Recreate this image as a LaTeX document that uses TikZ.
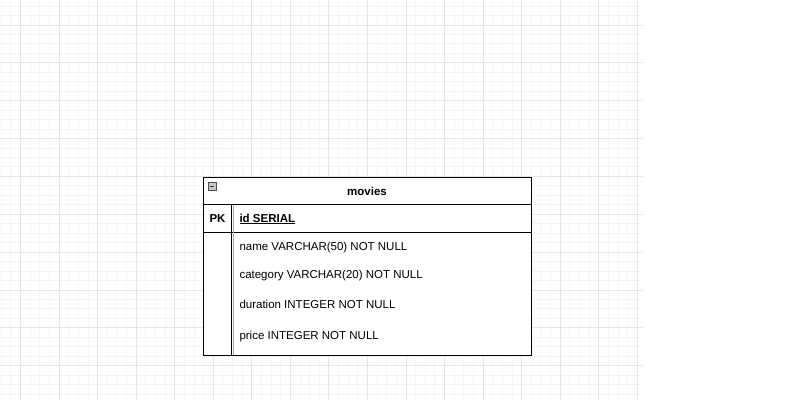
\documentclass[tikz,border=0pt]{standalone}
\usepackage{fontspec}
\setmainfont{Liberation Sans}
\definecolor{gridmajor}{HTML}{E6E6E6}
\definecolor{gridminor}{HTML}{F4F4F4}
\definecolor{dividergray}{HTML}{A8A8A8}
\definecolor{iconfill}{HTML}{C8C8C8}
\begin{document}
\begin{tikzpicture}[x=1pt,y=-1pt,
  every node/.style={inner sep=0pt, outer sep=0pt, font=\fontsize{11.5}{13}\selectfont},
  tline/.style={draw=black, line width=0.9pt},
  rowtext/.style={anchor=west},
  minorgrid/.style={draw=gridminor, line width=0.9pt},
  majorgrid/.style={draw=gridmajor, line width=0.9pt}]
\useasboundingbox (0,0) rectangle (800,413);
\fill[white] (0,0) rectangle (800,413);
% grid
\begin{scope}
\clip (0,0) rectangle (643,401);
\foreach \k in {-3,...,67} {
  \draw[minorgrid] ({20.5+9.6375*\k},0) -- ({20.5+9.6375*\k},401);
}
\foreach \k in {-3,...,43} {
  \draw[minorgrid] (0,{25+9.4625*\k}) -- (643,{25+9.4625*\k});
}
\foreach \k in {-1,...,16} {
  \draw[majorgrid] ({20.5+38.55*\k},0) -- ({20.5+38.55*\k},401);
}
\foreach \k in {-1,...,10} {
  \draw[majorgrid] (0,{25+37.85*\k}) -- (643,{25+37.85*\k});
}
\end{scope}
% table
\fill[white] (203.5,177) rectangle (531,355);
\coordinate (tl) at (203.5,177);
\coordinate (br) at (531,355);
\draw[tline] (tl) rectangle (br);
\draw[tline] (203.5,204) -- (531,204);
\draw[tline] (203.5,232.5) -- (531,232.5);
\draw[tline] (231.5,204) -- (231.5,355);
\draw[draw=dividergray, line width=1pt] (233.2,204.5) -- (233.2,354.5);
% collapse icon
\node[draw=black!70, fill=iconfill, line width=0.6pt, minimum width=8pt, minimum height=8pt] (icon) at (211.8,186) {};
\draw[black!80, line width=1pt] ([xshift=1.8pt]icon.west) -- ([xshift=-1.8pt]icon.east);
% texts
\node[font=\fontsize{11.5}{13}\selectfont\bfseries] (title) at (367,191) {movies};
\node[font=\fontsize{11.5}{13}\selectfont\bfseries] (pk) at (217.5,219) {PK};
\node[rowtext, font=\fontsize{11.5}{13}\selectfont\bfseries] (id) at (239.5,219) {\underline{id SERIAL}};
\node[rowtext] (name) at (239.5,247.5) {name VARCHAR(50) NOT NULL};
\node[rowtext] (category) at (239.5,276) {category VARCHAR(20) NOT NULL};
\node[rowtext] (duration) at (239.5,304) {duration INTEGER NOT NULL};
\node[rowtext] (price) at (239.5,337) {price INTEGER NOT NULL};
\end{tikzpicture}
\end{document}
